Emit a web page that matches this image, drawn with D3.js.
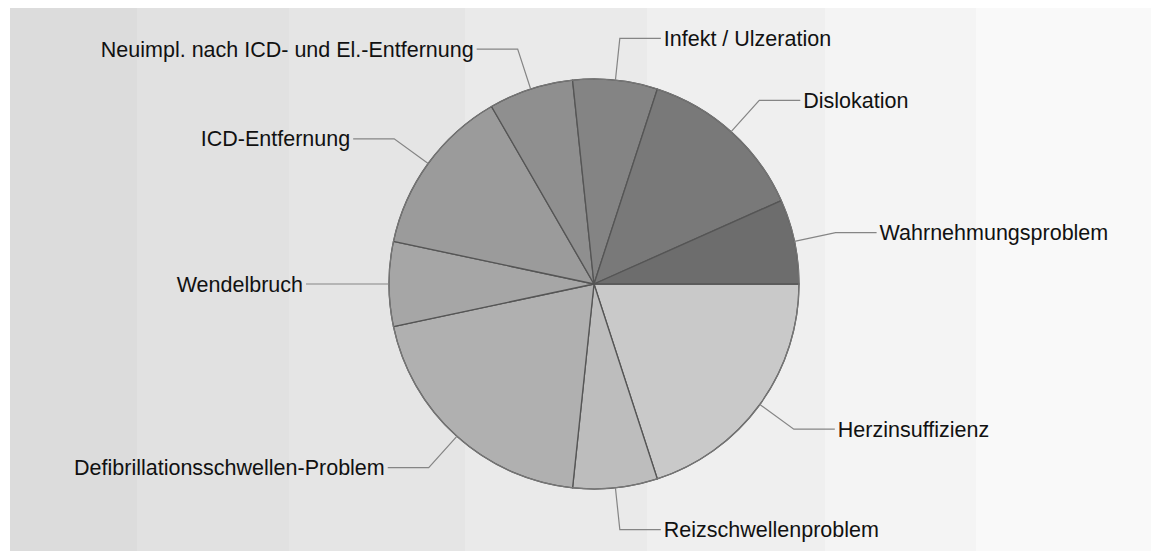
<!DOCTYPE html>
<html>
<head>
<meta charset="utf-8">
<script src="https://cdn.jsdelivr.net/npm/d3@7"></script>
<style>
  html, body { margin: 0; padding: 0; background: #ffffff; }
  svg { display: block; }
  text { font-family: "Liberation Sans", Arial, sans-serif; }
</style>
</head>
<body>
<svg id="chart" width="1151" height="551"></svg>
<script>
// Slice categories, clockwise from 3 o'clock
const categories = [
  "Herzinsuffizienz",
  "Reizschwellenproblem",
  "Defibrillationsschwellen-Problem",
  "Wendelbruch",
  "ICD-Entfernung",
  "Neuimpl. nach ICD- und El.-Entfernung",
  "Infekt / Ulzeration",
  "Dislokation",
  "Wahrnehmungsproblem"
];
// Case counts per category
const values = [3, 1, 3, 1, 2, 1, 1, 2, 1];
// Slice fills, light to dark
const sliceColors = [
  "#c9c9c9", "#bdbdbd", "#b0b0b0", "#a6a6a6", "#9b9b9b",
  "#8f8f8f", "#848484", "#797979", "#6d6d6d"
];
// Background stripes (left edges and shades)
const bandEdges = [10, 137, 289, 465, 647, 825, 976, 1151];
const bandColors = ["#dcdcdc", "#e1e1e1", "#e5e5e5", "#eaeaea", "#efefef", "#f4f4f4", "#f9f9f9"];

const svg = d3.select("#chart");
const W = 1151, H = 551;
const plotTop = 8;

// striped backdrop
const bands = d3.range(bandColors.length).map(i => ({x0: bandEdges[i], x1: bandEdges[i + 1], c: bandColors[i]}));
svg.append("g").selectAll("rect").data(bands).join("rect")
  .attr("x", d => d.x0).attr("y", plotTop)
  .attr("width", d => d.x1 - d.x0).attr("height", H - plotTop)
  .attr("fill", d => d.c);

const cx = 594, cy = 284, radius = 205;
const elbowR = 247, tail = 41, gap = 3;

const pie = d3.pie().sort(null).value(d => d.v)
  .startAngle(Math.PI / 2).endAngle(Math.PI / 2 + 2 * Math.PI);
const data = categories.map((name, i) => ({name, v: values[i], color: sliceColors[i]}));
const arcs = pie(data);
const arcGen = d3.arc().innerRadius(0).outerRadius(radius);

const g = svg.append("g").attr("transform", `translate(${cx},${cy})`);

g.selectAll("path.slice").data(arcs).join("path")
  .attr("class", "slice")
  .attr("d", arcGen)
  .attr("fill", d => d.data.color)
  .attr("stroke", "#555555")
  .attr("stroke-width", 1.3)
  .attr("stroke-linejoin", "round");

// outer rim
g.append("circle").attr("r", radius).attr("fill", "none")
  .attr("stroke", "#777777").attr("stroke-width", 1.1);

const polar = (r, a) => [r * Math.sin(a), -r * Math.cos(a)];

arcs.forEach(d => {
  const mid = (d.startAngle + d.endAngle) / 2;
  const p0 = polar(radius, mid);
  const p1 = polar(elbowR, mid);
  const right = p1[0] >= 0.5 ? 1 : (p1[0] <= -0.5 ? -1 : (Math.sin(mid) >= 0 ? 1 : -1));
  const p2 = [p1[0] + right * tail, p1[1]];
  g.append("polyline")
    .attr("points", [p0, p1, p2].map(p => p.join(",")).join(" "))
    .attr("fill", "none")
    .attr("stroke", "#858585")
    .attr("stroke-width", 1.2);
  g.append("text")
    .attr("x", p2[0] + right * gap)
    .attr("y", p2[1])
    .attr("dy", "0.35em")
    .attr("text-anchor", right > 0 ? "start" : "end")
    .attr("font-size", 21.5)
    .attr("fill", "#111")
    .text(d.data.name);
});
</script>
</body>
</html>
